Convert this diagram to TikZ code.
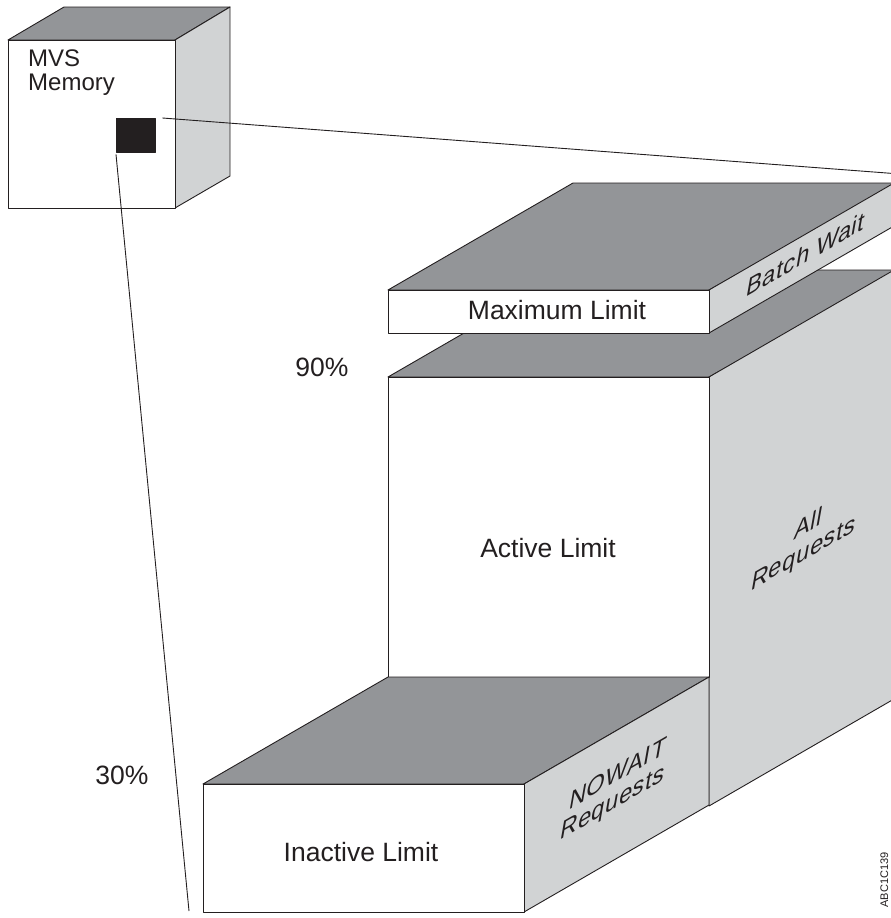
\documentclass[tikz,border=0pt]{standalone}
\usepackage{fontspec}
\setmainfont{Liberation Sans}
\definecolor{topgray}{HTML}{939598}
\definecolor{sidegray}{HTML}{D1D3D4}
\definecolor{ink}{HTML}{231F20}
\begin{document}
\begin{tikzpicture}[x=1pt,y=-1pt, line join=round,
  edge/.style={draw=ink, line width=0.9pt},
  topface/.style={edge, fill=topgray},
  sideface/.style={edge, fill=sidegray},
  frontface/.style={edge, fill=white, rectangle, inner sep=0pt, anchor=north west},
  lbl/.style={text=ink, font=\fontsize{26.5}{30}\selectfont, align=center, inner sep=0pt},
  sidelbl/.style={text=ink, font=\fontsize{27}{29}\selectfont\addfontfeature{LetterSpace=3}, align=center, inner sep=0pt, transform shape},
  skew/.style={cm={0.866,0.5,0.174,0.985,(0,0)}},
  wire/.style={draw=ink, line width=0.9pt}]
\useasboundingbox (0,0) rectangle (891,918);
\clip (0,0) rectangle (891,918);

% MVS memory cube
\fill[white] (0,0) rectangle (891,918);
\draw[topface] (8,40) -- (64,7) -- (230,7) -- (175,40) -- cycle;
\draw[sideface] (175,40) -- (230,7) -- (230,176) -- (175,208) -- cycle;
\node[frontface, minimum width=167pt, minimum height=168pt] (mvs) at (8,40) {};
\node[text=ink, font=\fontsize{24}{24}\selectfont, align=left, anchor=north west, inner sep=0pt] (mvslbl) at (28,50) {MVS\\Memory};
\node[fill=ink, draw=ink, minimum width=39pt, minimum height=34pt, inner sep=0pt, anchor=north west] (sq) at (116,118) {};

% tall block (All Requests)
\draw[topface] (388,377) -- (573,270) -- (900,270) -- (709,377) -- cycle;
\draw[sideface] (709,377) -- (894,270) -- (894,699) -- (709,806) -- cycle;
\node[frontface, minimum width=321pt, minimum height=300pt] (act) at (388,377) {};
\node[lbl] (actlbl) at (548,548) {Active Limit};

% top slab (Maximum Limit)
\draw[topface] (388,290) -- (573,183) -- (900,183) -- (709,290) -- cycle;
\draw[sideface] (709,290) -- (894,183) -- (894,226) -- (709,333) -- cycle;
\node[frontface, minimum width=321pt, minimum height=43pt] (max) at (388,290) {};
\node[lbl] (maxlbl) at (557,310) {Maximum Limit};

% inactive block
\draw[topface] (203,784) -- (388,677) -- (709,677) -- (524,784) -- cycle;
\draw[sideface] (524,784) -- (709,677) -- (709,805) -- (524,912) -- cycle;
\node[frontface, minimum width=321pt, minimum height=128pt] (ina) at (203,784) {};
\node[lbl] (inalbl) at (361,852) {Inactive Limit};

% skewed side labels
\begin{scope}[shift={(806,254)}, skew]
  \node[sidelbl] (bw) at (0,0) {Batch Wait};
\end{scope}
\begin{scope}[shift={(806,540)}, skew]
  \node[sidelbl] (allreq) at (0,0) {All\\Requests};
\end{scope}
\begin{scope}[shift={(615,790)}, skew]
  \node[sidelbl] (nowait) at (0,0) {NOWAIT\\Requests};
\end{scope}

% percentages
\node[lbl] (p90) at (322,367) {90\%};
\node[lbl] (p30) at (122,775) {30\%};

% zoom lines
\coordinate (zr) at (900,174);
\coordinate (zb) at (189,911);
\draw[wire] ([xshift=7pt]sq.north east) -- (zr);
\draw[wire] ([yshift=-2pt]sq.south west) -- (zb);

% figure id
\node[text=ink, font=\fontsize{11}{11}\selectfont, rotate=90, anchor=base, inner sep=0pt] (fid) at (888,880) {ABC1C139};
\end{tikzpicture}
\end{document}
